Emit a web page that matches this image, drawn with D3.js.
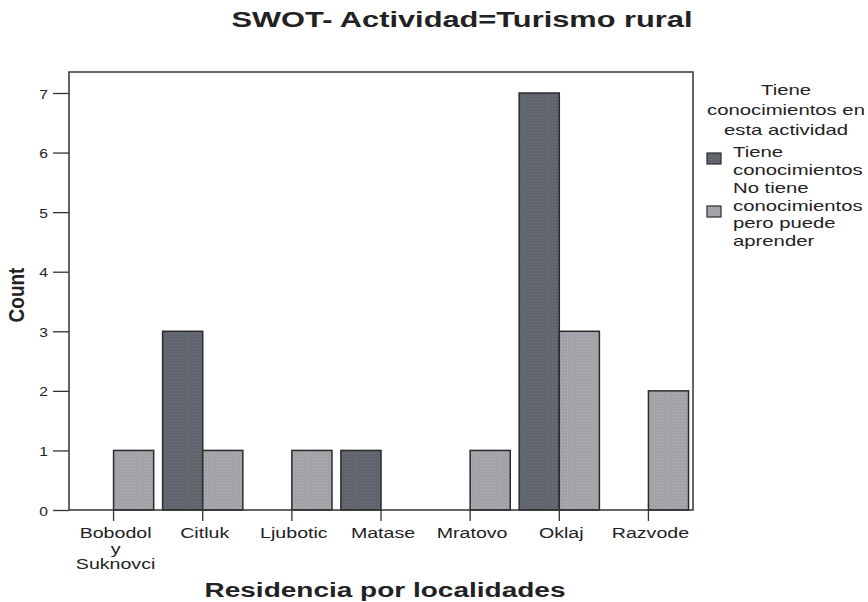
<!DOCTYPE html>
<html>
<head>
<meta charset="utf-8">
<script src="https://cdnjs.cloudflare.com/ajax/libs/d3/7.8.5/d3.min.js"></script>
<style>
  body { margin: 0; background: #fff; }
  text { font-family: "Liberation Sans", Arial, sans-serif; fill: #222; }
</style>
</head>
<body>
<script>
// chart data
const localidades = ["Bobodol y Suknovci", "Citluk", "Ljubotic", "Matase", "Mratovo", "Oklaj", "Razvode"];
const tieneConocimientos = [0, 3, 0, 1, 0, 7, 0];
const noTienePuedeAprender = [1, 1, 1, 0, 1, 3, 2];
const seriesNames = ["Tiene conocimientos", "No tiene conocimientos pero puede aprender"];
const yTicks = [0, 1, 2, 3, 4, 5, 6, 7];

const W = 868, H = 602;
const margin = {top: 72, right: 175, bottom: 92, left: 69};
const plotBottom = 510;
const SX = 1.4; // the scanned chart is stretched sideways

const svg = d3.select("body").append("svg")
    .attr("width", W)
    .attr("height", H);

// text drawn with the same horizontal stretch as the reference
function stext(parent, x, y, str, size, opts) {
  opts = opts || {};
  const sx = opts.sx || SX;
  return parent.append("text")
      .attr("transform", "translate(" + x + "," + y + ") scale(" + sx + ",1)")
      .attr("text-anchor", opts.anchor || "start")
      .style("font-size", size + "px")
      .style("font-weight", opts.bold ? "bold" : "normal")
      .text(str);
}

// stipple patterns to mimic the printed texture
const defs = svg.append("defs");
const fills = [
  {id: "pDark", base: "#5b5f68", dot: "#7a7e86"},
  {id: "pLight", base: "#9c9ea3", dot: "#b8babe"}
];
fills.forEach(f => {
  const p = defs.append("pattern")
      .attr("id", f.id)
      .attr("width", 3).attr("height", 3)
      .attr("patternUnits", "userSpaceOnUse");
  p.append("rect").attr("width", 3).attr("height", 3).attr("fill", f.base);
  p.append("rect").attr("x", 0).attr("y", 0).attr("width", 1).attr("height", 1).attr("fill", f.dot);
  p.append("rect").attr("x", 1.5).attr("y", 1.5).attr("width", 1).attr("height", 1).attr("fill", f.dot);
});

const x0 = d3.scaleBand()
    .domain(localidades)
    .range([margin.left, W - margin.right])
    .paddingInner(0.1)
    .paddingOuter(0.05);

const x1 = d3.scaleBand()
    .domain([0, 1])
    .range([0, x0.bandwidth()]);

const y = d3.scaleLinear()
    .domain([0, 7])
    .range([plotBottom, 93]);

// title
stext(svg, 462, 27, "SWOT- Actividad=Turismo rural", 22, {bold: true, anchor: "middle"});

// bars
const rows = localidades.map((c, i) => ({c: c, v: [tieneConocimientos[i], noTienePuedeAprender[i]]}));
const g = svg.append("g");
rows.forEach(r => {
  r.v.forEach((v, k) => {
    if (v === 0) return;
    g.append("rect")
        .attr("x", x0(r.c) + x1(k))
        .attr("y", y(v))
        .attr("width", x1.bandwidth())
        .attr("height", plotBottom - y(v))
        .attr("fill", k === 0 ? "url(#pDark)" : "url(#pLight)")
        .attr("stroke", "#2b2b2b")
        .attr("stroke-width", 1.5);
  });
});

// frame
svg.append("rect")
    .attr("x", margin.left).attr("y", margin.top)
    .attr("width", W - margin.right - margin.left)
    .attr("height", plotBottom - margin.top)
    .attr("fill", "none")
    .attr("stroke", "#333")
    .attr("stroke-width", 1.5);

// y axis
const yAxis = svg.append("g")
    .attr("transform", "translate(" + margin.left + ",0)")
    .call(d3.axisLeft(y).tickValues(yTicks).tickSize(16).tickFormat(d3.format("d")));
yAxis.select(".domain").remove();
yAxis.selectAll("line").attr("stroke", "#333").attr("stroke-width", 1.3);
yAxis.selectAll(".tick text").remove();
yAxis.selectAll(".tick").each(function(d) {
  stext(d3.select(this), -21, 5, d3.format("d")(d), 13, {anchor: "end", sx: 1.2});
});

// x axis
const xAxis = svg.append("g")
    .attr("transform", "translate(0," + plotBottom + ")")
    .call(d3.axisBottom(x0).tickSize(11));
xAxis.select(".domain").remove();
xAxis.selectAll("line").attr("stroke", "#333").attr("stroke-width", 1.3);
xAxis.selectAll(".tick text").remove();
xAxis.selectAll(".tick").each(function(d) {
  const parts = d === "Bobodol y Suknovci" ? ["Bobodol", "y", "Suknovci"] : [d];
  const tick = d3.select(this);
  parts.forEach((p, i) => {
    stext(tick, 2, 28 + i * 15.5, p, 14, {anchor: "middle"});
  });
});

// axis titles
svg.append("text")
    .attr("transform", "translate(24,295) scale(1.15,1) rotate(-90)")
    .attr("text-anchor", "middle")
    .style("font-size", "19px")
    .style("font-weight", "bold")
    .text("Count");

stext(svg, 385, 597, "Residencia por localidades", 20, {bold: true, anchor: "middle"});

// legend
const legTitle = ["Tiene", "conocimientos en", "esta actividad"];
legTitle.forEach((l, i) => {
  stext(svg, 786, 95 + i * 20, l, 14.5, {anchor: "middle"});
});

const legItems = [
  {lines: ["Tiene", "conocimientos"], fill: "url(#pDark)", y0: 157, sw: 159},
  {lines: ["No tiene", "conocimientos", "pero puede", "aprender"], fill: "url(#pLight)", y0: 193, sw: 212}
];
legItems.forEach((it, k) => {
  svg.append("rect")
      .attr("x", 707).attr("y", it.sw - 6)
      .attr("width", 14).attr("height", 11)
      .attr("fill", it.fill)
      .attr("stroke", "#2b2b2b")
      .attr("stroke-width", 1.2);
  it.lines.forEach((l, i) => {
    stext(svg, 733, it.y0 + i * 17.5, l, 14.5);
  });
});
</script>
</body>
</html>
